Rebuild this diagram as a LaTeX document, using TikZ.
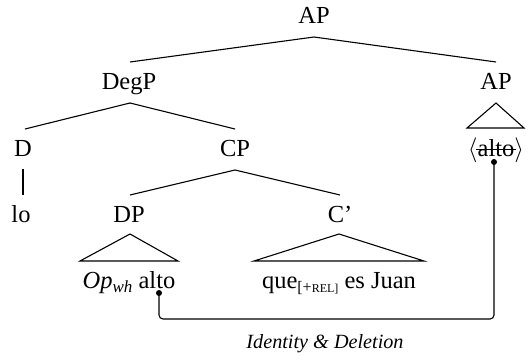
\documentclass[tikz,border=0pt]{standalone}
\usepackage{fontspec}
\setmainfont{Liberation Serif}
\usetikzlibrary{calc}
\begin{document}
\begin{tikzpicture}[x=1pt,y=-1pt,
  lab/.style={anchor=base,inner sep=0pt,font=\fontsize{24.5}{28}\selectfont},
  branch/.style={line width=1.1pt,line join=miter},
  dotend/.style={fill=black,circle,inner sep=0pt,minimum size=6pt},
  link/.style={line width=1.1pt,rounded corners=4pt}]
\useasboundingbox (0,0) rectangle (529,359);
% nodes
\node[lab] (ap) at (314,23) {AP};
\node[lab] (degp) at (129,89) {DegP};
\node[lab] (ap2) at (496,89) {AP};
\node[lab] (d) at (23,156) {D};
\node[lab] (cp) at (235,156) {CP};
\node[lab] (alto2) at (496,156) {$\langle$\phantom{alto}$\rangle$};
\node[lab] (altostrike) at (496,156) {alto};
\node[lab] (lo) at (21,222) {lo};
\node[lab] (dp) at (129,222) {DP};
\node[lab] (cbar) at (340,222) {C'};
\node[lab] (opalto) at (129,288) {\textit{Op}\raisebox{-4pt}{\fontsize{17}{17}\selectfont\itshape wh} alto};
\node[lab] (que) at (339,288) {que\raisebox{-4pt}{\fontsize{16}{16}\selectfont[+\fontsize{12}{12}\selectfont REL]} es Juan};
\node[anchor=base,inner sep=0pt,font=\fontsize{20.2}{23}\selectfont\itshape] (idl) at (325,348) {Identity \& Deletion};
% coordinates for branch ends
\coordinate (apB) at (314,37);
\coordinate (degpT) at (130,62);
\coordinate (ap2T) at (496,62);
\coordinate (degpB) at (130,103);
\coordinate (dT) at (25,129);
\coordinate (cpT) at (235,129);
\coordinate (dB) at (23,169);
\coordinate (loT) at (23,195);
\coordinate (cpB) at (235,170);
\coordinate (dpT) at (130,195);
\coordinate (cbarT) at (340,195);
% branches
\draw[branch] (apB) -- (degpT);
\draw[branch] (apB) -- (ap2T);
\draw[branch] (degpB) -- (dT);
\draw[branch] (degpB) -- (cpT);
\draw[branch] (dB) -- (loT);
\draw[branch] (cpB) -- (dpT);
\draw[branch] (cpB) -- (cbarT);
% triangles
\draw[branch] (496,103) -- (467,128) -- (524,128) -- cycle;
\draw[branch] (130,234) -- (80,261) -- (178,261) -- cycle;
\draw[branch] (339,234) -- (254,261) -- (424,261) -- cycle;
% strike
\draw[line width=1pt] ($(altostrike.base west)+(-1,-6.5)$) -- ($(altostrike.base east)+(1,-6.5)$);
% link
\node[dotend] (dotA) at (159,293) {};
\node[dotend] (dotB) at (494,162) {};
\draw[link] (dotA.center) -- (159,319) -- (494,319) -- (dotB.center);
\end{tikzpicture}
\end{document}
